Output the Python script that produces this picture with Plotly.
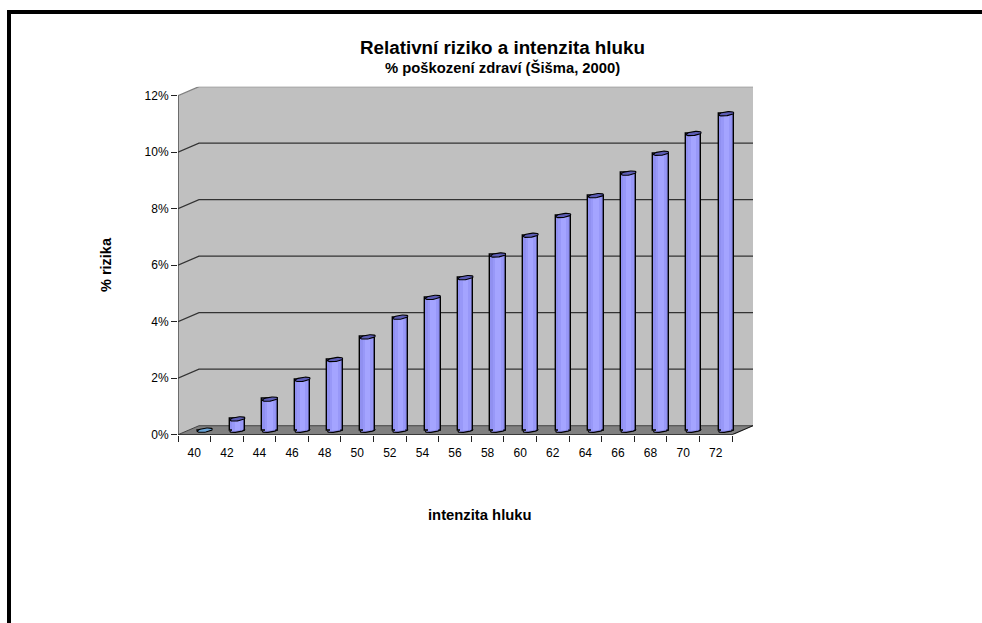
import numpy as np
import plotly.graph_objects as go

# ---- data ----
intensity = ["40","42","44","46","48","50","52","54","56","58","60","62","64","66","68","70","72"]
risk = [0.0,0.4,1.1,1.8,2.5,3.3,4.0,4.7,5.4,6.2,6.9,7.6,8.3,9.1,9.8,10.5,11.2]
y_ticks = [0,2,4,6,8,10,12]
y_labels = ["0%","2%","4%","6%","8%","10%","12%"]

W, H = 982, 623
FONT = "Liberation Sans, Arial, sans-serif"
n = len(risk)
DX, DY = 0.644, 0.318       # depth of the 3-D box, axis units
XC = [i + 0.5 + DX * 0.5 for i in range(n)]
BASE = DY * 0.5
A, B, K = 0.235, 0.07, 0.034
GRID = "#333333"

shapes = []
def poly(pts, fill=None, line=None, lw=1.0, layer="below"):
    path = "M" + " L".join(f"{x},{y}" for x, y in pts)
    if fill:
        path += " Z"
    shapes.append(dict(type="path", xref="x", yref="y", path=path, layer=layer,
                       fillcolor=fill or "rgba(0,0,0,0)",
                       line=dict(color=line or "rgba(0,0,0,0)", width=lw)))

poly([(0,0),(DX,DY),(DX,12+DY),(0,12)], fill="#C0C0C0")
poly([(DX,DY),(n+DX,DY),(n+DX,12+DY),(DX,12+DY)], fill="#C0C0C0")
poly([(0,0),(n,0),(n+DX,DY),(DX,DY)], fill="#808080")
for v in y_ticks[1:]:
    c = "#808080" if v == 12 else GRID
    poly([(0,v),(DX,v+DY),(n+DX,v+DY)], line=c, lw=1.2)
poly([(0,0),(DX,DY),(n+DX,DY)], line="#404040", lw=1.0)
poly([(0,0),(n,0),(n+DX,DY)], line="#111111", lw=1.2)
poly([(0,0),(0,12)], line="#333333", lw=1.2)

shapes.append(dict(type="rect", xref="paper", yref="paper", x0=7/W, x1=1, y0=1-14/H, y1=1-10/H,
                   fillcolor="black", line=dict(width=0), layer="above"))
shapes.append(dict(type="rect", xref="paper", yref="paper", x0=7/W, x1=11/W, y0=0, y1=1-10/H,
                   fillcolor="black", line=dict(width=0), layer="above"))

fig = go.Figure()
for width, colour, lw in [(2*A, "#9090F0", 1.4), (1.35*A, "#9898F8", 0), (0.7*A, "#A4A4FF", 0)]:
    fig.add_trace(go.Bar(x=XC, y=risk, base=[BASE]*n, width=width,
                         marker=dict(color=colour, line=dict(color="black", width=lw)),
                         showlegend=False, hoverinfo="skip"))

t_low = np.linspace(np.pi, 2*np.pi, 25)
t_all = np.linspace(0, 2*np.pi, 49)
for cx, v in zip(XC, risk):
    if v > 0:
        fig.add_trace(go.Scatter(x=cx + A*np.cos(t_low), y=BASE + B*np.sin(t_low) + K*np.cos(t_low),
                                 mode="lines", fill="toself", fillcolor="#9090F0",
                                 line=dict(color="rgba(0,0,0,0)", width=0),
                                 showlegend=False, hoverinfo="skip"))
        fig.add_trace(go.Scatter(x=cx + A*np.cos(t_low), y=BASE + B*np.sin(t_low) + K*np.cos(t_low),
                                 mode="lines", line=dict(color="black", width=1.3),
                                 showlegend=False, hoverinfo="skip"))
    top = BASE + v
    fig.add_trace(go.Scatter(x=cx + A*np.cos(t_all), y=top + B*np.sin(t_all) + K*np.cos(t_all),
                             mode="lines", fill="toself",
                             fillcolor="#5C5CB4" if v > 0 else "#6AA5D8",
                             line=dict(color="black", width=1.1),
                             showlegend=False, hoverinfo="skip"))

def note(text, px, py, size, angle=0):
    return dict(text=text, xref="paper", yref="paper", x=px/W, y=1-py/H, showarrow=False,
                xanchor="center", yanchor="middle", textangle=angle,
                font=dict(family=FONT, size=size, color="black"))

fig.update_layout(
    autosize=False,
    width=W, height=H, margin=dict(l=0, r=0, t=0, b=0, autoexpand=False),
    paper_bgcolor="white", plot_bgcolor="white", barmode="overlay", bargap=0,
    shapes=shapes, showlegend=False, hovermode=False,
    font=dict(family=FONT, size=12, color="black"),
    xaxis=dict(domain=[178/W, 753/W], range=[0, n+DX], showgrid=False, zeroline=False, showline=False,
               tickmode="array", tickvals=[i+0.5 for i in range(n)], ticktext=intensity,
               ticks="outside", ticklen=6, tickcolor="rgba(0,0,0,0)", ticklabelstandoff=1,
               tickfont=dict(family=FONT, size=12, color="black"),
               minor=dict(tickmode="array", tickvals=list(range(n+1)), ticks="outside",
                          ticklen=6, tickwidth=1, tickcolor="#222222", showgrid=False)),
    yaxis=dict(domain=[1-434.7/H, 1-86.7/H], range=[0, 12+DY], showgrid=False, zeroline=False, showline=False,
               tickmode="array", tickvals=y_ticks, ticktext=y_labels,
               ticks="outside", ticklen=6, tickwidth=1, tickcolor="#222222",
               tickfont=dict(family=FONT, size=12, color="black")),
    annotations=[
        note("<b>Relativní riziko a intenzita hluku</b>", 502, 47.5, 18.8),
        note("<b>% poškození zdraví (Šišma, 2000)</b>", 502, 67.5, 14.8),
        note("<b>% rizika</b>", 106, 265, 14.5, angle=-90),
        note("<b>intenzita hluku</b>", 480, 515, 14.8),
    ],
)
fig.write_html("out.html", config=dict(displayModeBar=False), default_width=f"{W}px", default_height=f"{H}px",
               post_script="document.body.style.margin='0';document.body.style.overflow='hidden';")
